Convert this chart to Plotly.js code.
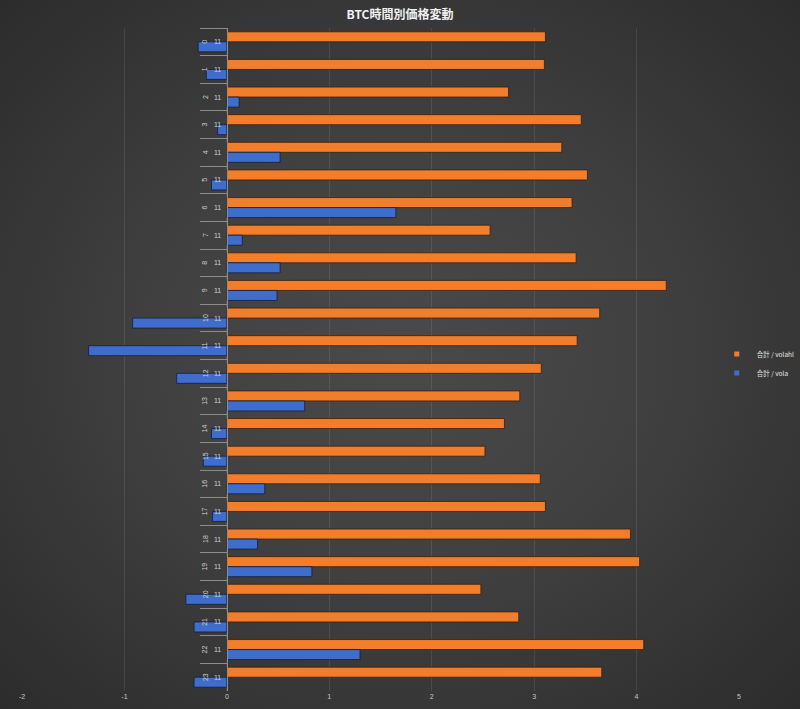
<!DOCTYPE html>
<html>
<head>
<meta charset="utf-8">
<script src="https://cdn.plot.ly/plotly-3.0.1.min.js"></script>
<style>
  html, body { margin: 0; padding: 0; }
  body { width: 800px; height: 709px; overflow: hidden;
    background: radial-gradient(ellipse at 50% 50%, #4a4a4a 0%, #404040 45%, #333333 80%, #2c2c2c 100%); }
  #chart { width: 800px; height: 709px; }
</style>
</head>
<body>
<div id="chart"></div>
<script>
const hours = ['0','1','2','3','4','5','6','7','8','9','10','11','12','13','14','15','16','17','18','19','20','21','22','23'];
const innerLabels = ['11','11','11','11','11','11','11','11','11','11','11','11','11','11','11','11','11','11','11','11','11','11','11','11'];
const seriesNames = ['合計 / volahl', '合計 / vola'];
const volahl = [3.11, 3.10, 2.75, 3.46, 3.27, 3.52, 3.37, 2.57, 3.41, 4.29, 3.64, 3.42, 3.07, 2.86, 2.71, 2.52, 3.06, 3.11, 3.94, 4.03, 2.48, 2.85, 4.07, 3.66];
const vola   = [-0.28, -0.20, 0.12, -0.09, 0.52, -0.15, 1.65, 0.15, 0.52, 0.49, -0.92, -1.35, -0.49, 0.76, -0.15, -0.23, 0.37, -0.14, 0.30, 0.83, -0.40, -0.32, 1.30, -0.32];
const xTicks = [-2, -1, 0, 1, 2, 3, 4, 5];
const colors = ['#F27E2C', '#3E6DCC'];
const edgeColors = ['rgba(60,30,10,0.8)', 'rgba(20,30,60,0.8)'];

const barData = [volahl, vola];
const traces = barData.map((vals, i) => ({
  type: 'bar', orientation: 'h', name: seriesNames[i], y: hours, x: vals, showlegend: false,
  marker: { color: colors[i], line: { color: edgeColors[i], width: 1 } }
}));
// legend entries with small square swatches
seriesNames.forEach((n, i) => traces.push({
  type: 'scatter', mode: 'markers', name: n, x: [null], y: [null], showlegend: true,
  marker: { symbol: 'square', size: 5, color: colors[i] }
}));

const labelFont = { family: 'Liberation Sans, Arial, sans-serif', size: 7, color: '#cfcfcf' };
const annotations = [];
hours.forEach((h, i) => {
  annotations.push({ x: 0, y: h, xref: 'x', yref: 'y', text: h, showarrow: false,
    xshift: -22, textangle: -90, font: labelFont });
  annotations.push({ x: 0, y: h, xref: 'x', yref: 'y', text: innerLabels[i], showarrow: false,
    xshift: -9, font: labelFont });
});

const layout = {
  width: 800, height: 709,
  paper_bgcolor: 'rgba(0,0,0,0)', plot_bgcolor: 'rgba(0,0,0,0)',
  margin: { l: 22, r: 61, t: 28, b: 18, pad: 0, autoexpand: false },
  title: { text: 'BTC時間別価格変動', x: 0.5, xanchor: 'center', y: 0.979, yanchor: 'middle',
    font: { family: 'Noto Sans CJK JP, sans-serif', size: 12, color: '#f2f2f2', weight: 'bold' } },
  barmode: 'group', bargap: 0.275, bargroupgap: 0,
  showlegend: true,
  legend: { x: 0.969, xanchor: 'left', y: 0.494, yanchor: 'middle', traceorder: 'normal',
    bgcolor: 'rgba(0,0,0,0)', itemwidth: 30, tracegroupgap: 0,
    font: { family: 'Noto Sans CJK JP, sans-serif', size: 6.5, color: '#e6e6e6' } },
  xaxis: { range: [-2, 5], tickvals: xTicks, ticktext: xTicks.map(String), showgrid: true,
    gridcolor: 'rgba(255,255,255,0.09)', gridwidth: 1, zeroline: false, showline: false,
    ticks: '', fixedrange: true,
    tickfont: { family: 'Liberation Sans, Arial, sans-serif', size: 7, color: '#c8c8c8' } },
  yaxis: { type: 'category', categoryorder: 'array', categoryarray: hours, autorange: 'reversed',
    anchor: 'free', position: 0.2859, showgrid: false, zeroline: false,
    showline: true, linecolor: '#8c8c8c', linewidth: 1,
    ticks: 'outside', tickson: 'boundaries', ticklen: 27, tickcolor: '#8c8c8c', tickwidth: 1,
    showticklabels: false, fixedrange: true },
  annotations: annotations
};

Plotly.newPlot('chart', traces, layout, { displayModeBar: false, staticPlot: true });
</script>
</body>
</html>
